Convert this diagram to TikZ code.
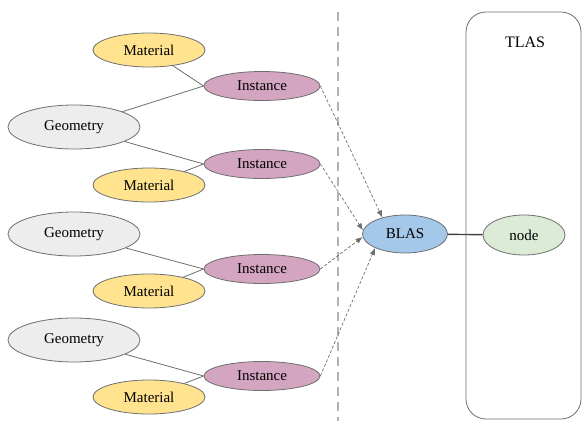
\documentclass[tikz,border=0pt]{standalone}
\usepackage{fontspec}
\setmainfont{Liberation Serif}
\usetikzlibrary{arrows.meta,shapes.geometric}

\definecolor{geofill}{HTML}{EDEDED}
\definecolor{matfill}{HTML}{FFE38F}
\definecolor{instfill}{HTML}{D4A5C0}
\definecolor{blasfill}{HTML}{A4C8EA}
\definecolor{nodefill}{HTML}{DCEBD6}
\definecolor{rim}{HTML}{6E6E6E}

\begin{document}
\begin{tikzpicture}[x=1pt,y=-1pt,
    blob/.style={ellipse, draw=rim, line width=0.8pt, inner sep=0pt,
                 font=\fontsize{15}{18}\selectfont},
    geo/.style={blob, fill=geofill, minimum width=132pt, minimum height=44pt},
    mat/.style={blob, fill=matfill, minimum width=112pt, minimum height=34pt},
    inst/.style={blob, fill=instfill, minimum width=116pt, minimum height=29pt},
    link/.style={draw=rim, line width=0.8pt},
    ref/.style={draw=rim, line width=0.7pt, dash pattern=on 3pt off 2pt,
                -{Latex[length=7pt,width=5.5pt]}}]
\useasboundingbox (0,0) rectangle (582,421);

% Separator
\draw[gray!60, line width=2.6pt, dash pattern=on 9pt off 6pt] (338,12) -- (338,421);

% TLAS frame
\draw[rim, line width=0.8pt, rounded corners=20pt] (466,12) rectangle (581,419);
\node[font=\fontsize{16}{19}\selectfont] (tlas) at (525,42) {TLAS};

% Group 1
\node[mat]  (mat1)  at (149,50)  {Material};
\node[inst] (inst1) at (262,86)  {Instance};
\node[geo]  (geo1)  at (74,127)  {Geometry};
\node[inst] (inst2) at (262,164) {Instance};
\node[mat]  (mat2)  at (149,185) {Material};

% Group 2
\node[geo]  (geo2)  at (74,234)  {Geometry};
\node[inst] (inst3) at (262,269) {Instance};
\node[mat]  (mat3)  at (149,291) {Material};

% Group 3
\node[geo]  (geo3)  at (74,340)  {Geometry};
\node[inst] (inst4) at (262,376) {Instance};
\node[mat]  (mat4)  at (149,397) {Material};

% Acceleration structures
\node[blob, fill=blasfill, minimum width=85pt, minimum height=38pt] (blas) at (405,234) {BLAS};
\node[blob, fill=nodefill, minimum width=82pt, minimum height=40pt] (top) at (524,235) {node};

% Instance links
\draw[link] (mat1) -- (inst1.west);
\draw[link] (geo1) -- (inst1.west);
\draw[link] (geo1) -- (inst2.west);
\draw[link] (mat2) -- (inst2.west);
\draw[link] (geo2) -- (inst3.west);
\draw[link] (mat3) -- (inst3.west);
\draw[link] (geo3) -- (inst4.west);
\draw[link] (mat4) -- (inst4.west);

% References to BLAS
\draw[ref] (inst1.east) -- (blas.144);
\draw[ref] (inst2.east) -- (blas.175);
\draw[ref] (inst3.east) -- (blas.184);
\draw[ref] (inst4.east) -- (blas.205);

\draw[draw=black!75, line width=1.4pt] (blas) -- (top);
\end{tikzpicture}
\end{document}
